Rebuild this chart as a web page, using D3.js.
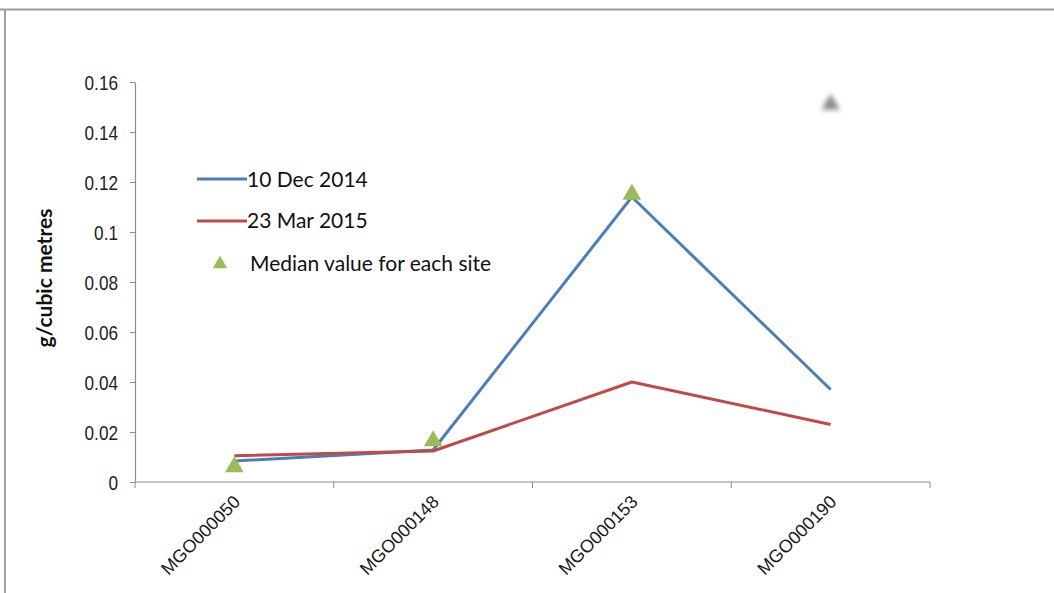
<!DOCTYPE html>
<html>
<head>
<meta charset="utf-8">
<script src="https://cdn.jsdelivr.net/npm/d3@7"></script>
<style>
  html, body { margin: 0; padding: 0; background: #fff; }
  svg { display: block; }
</style>
</head>
<body>
<svg id="chart" width="1054" height="593"></svg>
<script>
// Site identifiers along the x axis
const sites = ["MGO000050", "MGO000148", "MGO000153", "MGO000190"];
// Concentrations (g/cubic metres) per sampling date
const dec2014 = [0.0084, 0.0128, 0.114, 0.037];
const mar2015 = [0.0105, 0.0124, 0.040, 0.023];
// Median value for each site
const medians = [0.006, 0.0164, 0.115, 0.151];
// Y tick values and labels
const yTicks = [0, 0.02, 0.04, 0.06, 0.08, 0.1, 0.12, 0.14, 0.16];
const yTickLabels = ["0", "0.02", "0.04", "0.06", "0.08", "0.1", "0.12", "0.14", "0.16"];
const seriesNames = ["10 Dec 2014", "23 Mar 2015", "Median value for each site"];

const svg = d3.select("#chart");

// Frame of the chart area
svg.append("line").attr("x1", 0).attr("x2", 1054).attr("y1", 9.5).attr("y2", 9.5)
  .attr("stroke", "#9a9a9a").attr("stroke-width", 2);
svg.append("line").attr("x1", 5).attr("x2", 5).attr("y1", 9).attr("y2", 593)
  .attr("stroke", "#a0a0a0").attr("stroke-width", 2);

const plot = { left: 135, right: 930, top: 82, bottom: 482 };

const x = d3.scaleBand().domain(sites).range([plot.left, plot.right]);
const y = d3.scaleLinear().domain([0, 0.16]).range([plot.bottom, plot.top]);
const cx = d => x(d) + x.bandwidth() / 2;

// Y axis
const sx = 0.86;
const yAxis = d3.axisLeft(y).tickValues(yTicks)
  .tickFormat((d, i) => yTickLabels[i]).tickSize(5).tickSizeOuter(0);
const gy = svg.append("g").attr("transform", `translate(${plot.left},0)`).call(yAxis);
gy.select(".domain").attr("stroke", "#8c8c8c").attr("stroke-width", 1.2);
gy.selectAll(".tick line").attr("stroke", "#8c8c8c");
gy.selectAll(".tick text")
  .attr("font-family", "'Liberation Sans', Arial, sans-serif")
  .attr("font-size", 20).attr("fill", "#222")
  .attr("transform", `scale(${sx},1)`)
  .attr("x", -17 / sx)
  .attr("dy", "0.35em");

// X axis: ticks at category boundaries
const gx = svg.append("g").attr("transform", `translate(0,${plot.bottom})`);
gx.append("line").attr("x1", plot.left).attr("x2", plot.right).attr("y1", 0).attr("y2", 0)
  .attr("stroke", "#8c8c8c").attr("stroke-width", 1.2);
const bounds = sites.map(s => x(s)).concat([plot.right]);
gx.selectAll("line.tk").data(bounds).enter().append("line").attr("class", "tk")
  .attr("x1", d => d).attr("x2", d => d).attr("y1", 0).attr("y2", 6)
  .attr("stroke", "#8c8c8c");
gx.selectAll("text.cat").data(sites).enter().append("text").attr("class", "cat")
  .attr("transform", d => `translate(${cx(d) + 7},${21}) rotate(-45)`)
  .attr("text-anchor", "end")
  .attr("font-family", "'Liberation Sans', Arial, sans-serif")
  .attr("font-size", 18).attr("fill", "#1a1a1a")
  .text(d => d);

// Y axis title
svg.append("text")
  .attr("transform", "translate(52,278) rotate(-90)")
  .attr("text-anchor", "middle")
  .attr("font-family", "Lato, 'Open Sans', sans-serif")
  .attr("font-weight", "bold").attr("font-size", 21).attr("fill", "#111")
  .text("g/cubic metres");

// Series lines
const line = d3.line().x((d, i) => cx(sites[i])).y(d => y(d));
svg.append("path").datum(dec2014).attr("d", line)
  .attr("fill", "none").attr("stroke", "#4a7ebb").attr("stroke-width", 3)
  .attr("stroke-linejoin", "round");
svg.append("path").datum(mar2015).attr("d", line)
  .attr("fill", "none").attr("stroke", "#be4b48").attr("stroke-width", 3)
  .attr("stroke-linejoin", "round");

// Blur used for the faded median marker
const defs = svg.append("defs");
defs.append("filter").attr("id", "soft").attr("x", "-50%").attr("y", "-50%")
  .attr("width", "200%").attr("height", "200%")
  .append("feGaussianBlur").attr("stdDeviation", 2.5);

// Median markers
const tri = d3.symbol().type(d3.symbolTriangle).size(150);
svg.selectAll("path.med").data(medians).enter().append("path").attr("class", "med")
  .attr("d", tri)
  .attr("transform", (d, i) => `translate(${cx(sites[i])},${y(d)})`)
  .attr("fill", (d, i) => i === 3 ? "#8a8a8a" : "#9bbb59")
  .attr("filter", (d, i) => i === 3 ? "url(#soft)" : null);

// Legend
const lg = svg.append("g").attr("font-family", "Lato, 'Open Sans', sans-serif")
  .attr("font-size", 21).attr("fill", "#111");
lg.append("line").attr("x1", 197).attr("x2", 247).attr("y1", 179).attr("y2", 179)
  .attr("stroke", "#4a7ebb").attr("stroke-width", 3);
lg.append("text").attr("x", 247).attr("y", 187).text(seriesNames[0]);
lg.append("line").attr("x1", 197).attr("x2", 247).attr("y1", 221).attr("y2", 221)
  .attr("stroke", "#be4b48").attr("stroke-width", 3);
lg.append("text").attr("x", 247).attr("y", 228).text(seriesNames[1]);
lg.append("path").attr("d", d3.symbol().type(d3.symbolTriangle).size(90))
  .attr("transform", "translate(220,264)").attr("fill", "#9bbb59");
lg.append("text").attr("x", 250).attr("y", 271).text(seriesNames[2]);
</script>
</body>
</html>
